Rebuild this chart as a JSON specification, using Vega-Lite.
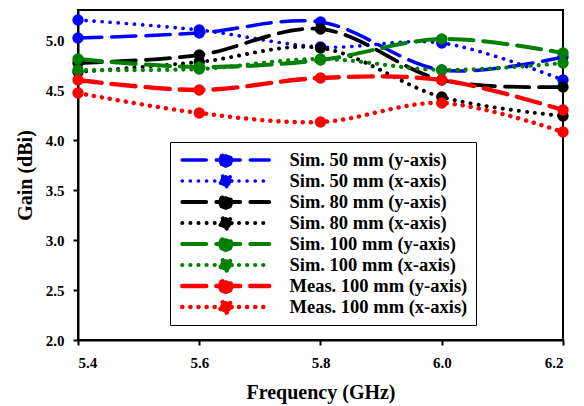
{
  "$schema": "https://vega.github.io/schema/vega-lite/v6.json",
  "width": 485,
  "height": 330,
  "autosize": "none",
  "padding": {"left": 78, "top": 10, "right": 21, "bottom": 66},
  "background": "white",
  "config": {
    "view": {"stroke": "black", "strokeWidth": 2},
    "font": "Liberation Serif",
    "axis": {"grid": false, "domainColor": "black", "domainWidth": 2, "tickColor": "black", "tickWidth": 2, "tickSize": 5,
      "labelFont": "Liberation Serif", "labelFontWeight": "bold", "labelFontSize": 15, "labelColor": "black",
      "titleFont": "Liberation Serif", "titleFontWeight": "bold", "titleColor": "black"}
  },
  "data": {"values": [
    {"s": "Sim. 50 mm (y-axis)", "f": 5.4, "g": 5.02},
    {"s": "Sim. 50 mm (y-axis)", "f": 5.6, "g": 5.07},
    {"s": "Sim. 50 mm (y-axis)", "f": 5.8, "g": 5.18},
    {"s": "Sim. 50 mm (y-axis)", "f": 6.0, "g": 4.7},
    {"s": "Sim. 50 mm (y-axis)", "f": 6.2, "g": 4.83},
    {"s": "Sim. 50 mm (x-axis)", "f": 5.4, "g": 5.2},
    {"s": "Sim. 50 mm (x-axis)", "f": 5.6, "g": 5.1},
    {"s": "Sim. 50 mm (x-axis)", "f": 5.8, "g": 4.93},
    {"s": "Sim. 50 mm (x-axis)", "f": 6.0, "g": 4.97},
    {"s": "Sim. 50 mm (x-axis)", "f": 6.2, "g": 4.6},
    {"s": "Sim. 80 mm (y-axis)", "f": 5.4, "g": 4.77},
    {"s": "Sim. 80 mm (y-axis)", "f": 5.6, "g": 4.85},
    {"s": "Sim. 80 mm (y-axis)", "f": 5.8, "g": 5.11},
    {"s": "Sim. 80 mm (y-axis)", "f": 6.0, "g": 4.6},
    {"s": "Sim. 80 mm (y-axis)", "f": 6.2, "g": 4.53},
    {"s": "Sim. 80 mm (x-axis)", "f": 5.4, "g": 4.68},
    {"s": "Sim. 80 mm (x-axis)", "f": 5.6, "g": 4.78},
    {"s": "Sim. 80 mm (x-axis)", "f": 5.8, "g": 4.92},
    {"s": "Sim. 80 mm (x-axis)", "f": 6.0, "g": 4.43},
    {"s": "Sim. 80 mm (x-axis)", "f": 6.2, "g": 4.24},
    {"s": "Sim. 100 mm (y-axis)", "f": 5.4, "g": 4.81},
    {"s": "Sim. 100 mm (y-axis)", "f": 5.6, "g": 4.73},
    {"s": "Sim. 100 mm (y-axis)", "f": 5.8, "g": 4.8},
    {"s": "Sim. 100 mm (y-axis)", "f": 6.0, "g": 5.01},
    {"s": "Sim. 100 mm (y-axis)", "f": 6.2, "g": 4.87},
    {"s": "Sim. 100 mm (x-axis)", "f": 5.4, "g": 4.7},
    {"s": "Sim. 100 mm (x-axis)", "f": 5.6, "g": 4.71},
    {"s": "Sim. 100 mm (x-axis)", "f": 5.8, "g": 4.81},
    {"s": "Sim. 100 mm (x-axis)", "f": 6.0, "g": 4.7},
    {"s": "Sim. 100 mm (x-axis)", "f": 6.2, "g": 4.77},
    {"s": "Meas. 100 mm (y-axis)", "f": 5.4, "g": 4.6},
    {"s": "Meas. 100 mm (y-axis)", "f": 5.6, "g": 4.5},
    {"s": "Meas. 100 mm (y-axis)", "f": 5.8, "g": 4.62},
    {"s": "Meas. 100 mm (y-axis)", "f": 6.0, "g": 4.6},
    {"s": "Meas. 100 mm (y-axis)", "f": 6.2, "g": 4.3},
    {"s": "Meas. 100 mm (x-axis)", "f": 5.4, "g": 4.47},
    {"s": "Meas. 100 mm (x-axis)", "f": 5.6, "g": 4.27},
    {"s": "Meas. 100 mm (x-axis)", "f": 5.8, "g": 4.18},
    {"s": "Meas. 100 mm (x-axis)", "f": 6.0, "g": 4.37},
    {"s": "Meas. 100 mm (x-axis)", "f": 6.2, "g": 4.08}
  ]},
  "encoding": {
    "x": {"field": "f", "type": "quantitative", "scale": {"domain": [5.4, 6.2], "nice": false},
      "axis": {"values": [5.4, 5.6, 5.8, 6.0, 6.2], "format": ".1f", "title": "Frequency (GHz)", "titleFontSize": 20, "titlePadding": 12, "labelPadding": 10}},
    "y": {"field": "g", "type": "quantitative", "scale": {"domain": [2.0, 5.3], "nice": false, "zero": false},
      "axis": {"values": [2.0, 2.5, 3.0, 3.5, 4.0, 4.5, 5.0], "format": ".1f", "title": "Gain (dBi)", "titleFontSize": 20, "titlePadding": 10, "labelPadding": 9}},
    "color": {"field": "s", "type": "nominal",
      "scale": {"domain": ["Sim. 50 mm (y-axis)", "Sim. 50 mm (x-axis)", "Sim. 80 mm (y-axis)", "Sim. 80 mm (x-axis)", "Sim. 100 mm (y-axis)", "Sim. 100 mm (x-axis)", "Meas. 100 mm (y-axis)", "Meas. 100 mm (x-axis)"],
        "range": ["#0000FF", "#0000FF", "#000000", "#000000", "#008000", "#008000", "#FF0000", "#FF0000"]},
      "legend": {"title": null, "orient": "none", "legendX": 92, "legendY": 132, "padding": 8,
        "strokeColor": "black", "fillColor": "white", "labelFont": "Liberation Serif", "labelFontWeight": "bold",
        "labelFontSize": 18.5, "labelColor": "black",
        "symbolType": "M-1,0H16.4M8.9,0L8.55,0.85L7.7,1.2L6.85,0.85L6.5,0L6.85,-0.85L7.7,-1.2L8.55,-0.85Z",
        "symbolSize": 100, "symbolStrokeWidth": 3.5, "clipHeight": 20,
        "labelOffset": 93, "rowPadding": 1, "labelLimit": 400,
        "encode": {"symbols": {"update": {"fill": {"scale": "color", "field": "value"}, "strokeCap": {"value": "round"}}}}}},
    "strokeDash": {"field": "s", "type": "nominal",
      "scale": {"domain": ["Sim. 50 mm (y-axis)", "Sim. 50 mm (x-axis)", "Sim. 80 mm (y-axis)", "Sim. 80 mm (x-axis)", "Sim. 100 mm (y-axis)", "Sim. 100 mm (x-axis)", "Meas. 100 mm (y-axis)", "Meas. 100 mm (x-axis)"],
        "range": [[24, 10], [0.1, 8], [24, 10], [0.1, 8], [24, 10], [0.1, 8], [24, 10], [0.1, 8]]},
      "legend": null}
  },
  "layer": [
    {"mark": {"type": "line", "interpolate": "catmull-rom", "strokeCap": "round"},
     "encoding": {"strokeWidth": {"field": "s", "type": "nominal",
       "scale": {"domain": ["Sim. 50 mm (y-axis)", "Sim. 50 mm (x-axis)", "Sim. 80 mm (y-axis)", "Sim. 80 mm (x-axis)", "Sim. 100 mm (y-axis)", "Sim. 100 mm (x-axis)", "Meas. 100 mm (y-axis)", "Meas. 100 mm (x-axis)"],
         "range": [3.5, 4.5, 3.5, 4.5, 3.5, 4.5, 3.5, 4.5]}, "legend": null}}},
    {"mark": {"type": "point", "filled": true, "shape": "circle", "size": 130, "opacity": 1}}
  ]
}
